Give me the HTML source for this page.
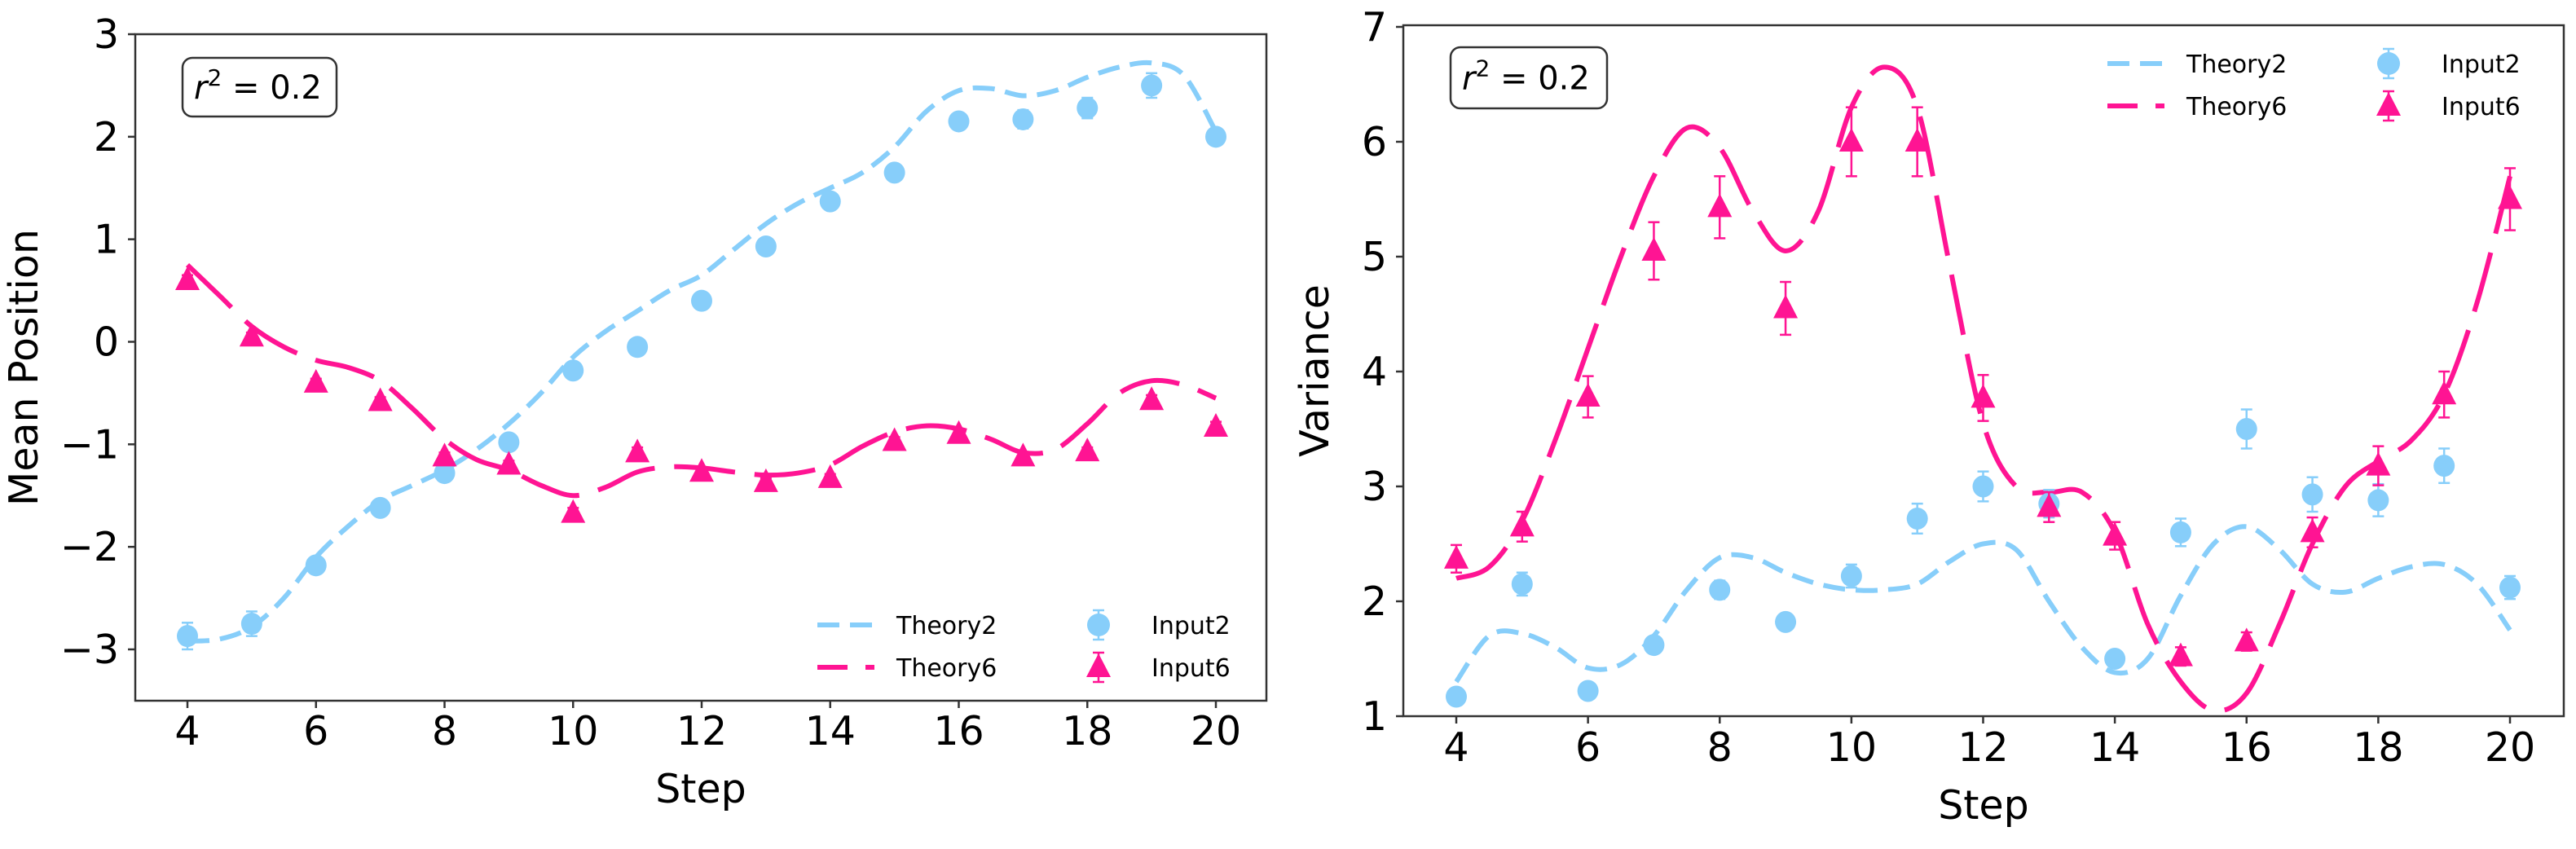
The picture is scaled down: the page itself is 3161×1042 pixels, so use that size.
<!DOCTYPE html>
<html><head><meta charset="utf-8"><style>
html,body{margin:0;padding:0;background:#fff;}
svg text{font-family:"DejaVu Sans","Liberation Sans",sans-serif;}
</style></head><body>
<svg id="fig" width="3161" height="1037" viewBox="0 0 3161 1037" xmlns="http://www.w3.org/2000/svg">
<defs>
<clipPath id="clipL"><rect x="166" y="42" width="1388" height="818"/></clipPath>
<clipPath id="clipR"><rect x="1722" y="31" width="1424" height="848"/></clipPath>
</defs>
<g id="left"></g>
<g id="right"></g>
</svg>
<script>
const steps = [4,5,6,7,8,9,10,11,12,13,14,15,16,17,18,19,20];
const meanInput2 = [-2.87,-2.75,-2.18,-1.62,-1.28,-0.98,-0.28,-0.05,0.40,0.93,1.37,1.65,2.15,2.17,2.28,2.50,2.00];
const meanInput2Err = [0.13,0.12,0.08,0.05,0.06,0.06,0.05,0.05,0.05,0.05,0.05,0.05,0.08,0.09,0.1,0.12,0.06];
const meanInput6 = [0.60,0.05,-0.40,-0.58,-1.12,-1.20,-1.67,-1.08,-1.27,-1.37,-1.33,-0.97,-0.90,-1.12,-1.07,-0.57,-0.83];
const meanInput6Err = [0.05,0.04,0.04,0.04,0.04,0.04,0.05,0.05,0.04,0.04,0.04,0.04,0.04,0.04,0.04,0.05,0.05];
const theoryX = [4,4.5,5,5.5,6,6.5,7,7.5,8,8.5,9,9.5,10,10.5,11,11.5,12,12.5,13,13.5,14,14.5,15,15.5,16,16.5,17,17.5,18,18.5,19,19.5,20];
const meanTheory2 = [-2.92,-2.9,-2.78,-2.5,-2.1,-1.8,-1.55,-1.4,-1.25,-1.05,-0.8,-0.5,-0.15,0.1,0.3,0.5,0.65,0.9,1.15,1.35,1.5,1.65,1.9,2.25,2.45,2.47,2.4,2.45,2.58,2.68,2.72,2.6,2.05];
const meanTheory6 = [0.75,0.45,0.15,-0.05,-0.18,-0.25,-0.38,-0.65,-0.95,-1.15,-1.25,-1.4,-1.5,-1.42,-1.27,-1.22,-1.23,-1.27,-1.3,-1.28,-1.2,-1.02,-0.88,-0.82,-0.85,-0.95,-1.08,-1.05,-0.8,-0.5,-0.38,-0.42,-0.55];
const varInput2 = [1.17,2.15,1.22,1.62,2.10,1.82,2.22,2.72,3.00,2.85,1.50,2.60,3.50,2.93,2.88,3.18,2.12];
const varInput2Err = [0.05,0.1,0.05,0.06,0.08,0.07,0.1,0.13,0.13,0.12,0.06,0.12,0.17,0.15,0.14,0.15,0.1];
const varInput6 = [2.37,2.65,3.78,5.05,5.43,4.55,6.00,6.00,3.77,2.82,2.57,1.52,1.65,2.60,3.18,3.80,5.50];
const varInput6Err = [0.12,0.13,0.18,0.25,0.27,0.23,0.3,0.3,0.2,0.13,0.12,0.08,0.08,0.13,0.17,0.2,0.27];
const varTheory2 = [1.3,1.7,1.72,1.6,1.42,1.45,1.7,2.1,2.38,2.38,2.25,2.15,2.1,2.1,2.15,2.35,2.5,2.45,2.0,1.6,1.38,1.5,2.05,2.5,2.65,2.45,2.15,2.08,2.2,2.3,2.32,2.15,1.75];
const varTheory6 = [2.2,2.3,2.7,3.4,4.2,5.0,5.7,6.12,5.95,5.4,5.05,5.4,6.3,6.65,6.3,4.9,3.55,3.0,2.95,2.95,2.6,1.8,1.3,1.05,1.2,1.8,2.5,3.0,3.22,3.4,3.8,4.6,5.7];
const xTicks = [4,6,8,10,12,14,16,18,20];
const meanYTicks = [-3,-2,-1,0,1,2,3];
const varYTicks = [1,2,3,4,5,6,7];

const NS='http://www.w3.org/2000/svg';
const BLUE='#87CEFA', PINK='#FF1493', AX='#333';
function mk(tag,attrs,parent){const e=document.createElementNS(NS,tag);for(const k in attrs)e.setAttribute(k,attrs[k]);parent.appendChild(e);return e;}
function smooth(pts){let d='M'+pts[0][0]+','+pts[0][1];for(let i=0;i<pts.length-1;i++){const p0=pts[i-1]||pts[i],p1=pts[i],p2=pts[i+1],p3=pts[i+2]||p2;
d+=' C'+(p1[0]+(p2[0]-p0[0])/6)+','+(p1[1]+(p2[1]-p0[1])/6)+' '+(p2[0]-(p3[0]-p1[0])/6)+','+(p2[1]-(p3[1]-p1[1])/6)+' '+p2[0]+','+p2[1];}return d;}

function chart(g,cfg){
  const sx=v=>cfg.x0+(v-4)*(cfg.x20-cfg.x0)/16;
  const sy=v=>cfg.yA+(v-cfg.vA)*(cfg.yB-cfg.yA)/(cfg.vB-cfg.vA);
  const L=cfg.L,R=cfg.R,T=cfg.T,B=cfg.B;
  const plot=mk('g',{'clip-path':'url(#'+cfg.clip+')'},g);
  
  
  const lines=[[cfg.th2,BLUE,'27 13','theory2-line',6],[cfg.th6,PINK,'75 24','theory6-line',6]];
  lines.forEach(([arr,c,da,nm,w])=>{
    const p=mk('path',{d:smooth(theoryX.map((x,i)=>[sx(x),sy(arr[i])])),fill:'none',stroke:c,'stroke-width':w,'stroke-dasharray':da},plot);
    
    
  });
  steps.forEach((s,i)=>{
    const x=sx(s);
    let y=sy(cfg.in2[i]),e=cfg.in2e[i]*Math.abs(cfg.yB-cfg.yA)/Math.abs(cfg.vB-cfg.vA);
    const g2=mk('g',{},plot);
    
    
    mk('line',{x1:x,x2:x,y1:y-e,y2:y+e,stroke:BLUE,'stroke-width':2.5},g2);
    mk('line',{x1:x-7,x2:x+7,y1:y-e,y2:y-e,stroke:BLUE,'stroke-width':2.5},g2);
    mk('line',{x1:x-7,x2:x+7,y1:y+e,y2:y+e,stroke:BLUE,'stroke-width':2.5},g2);
    mk('ellipse',{cx:x,cy:y,rx:13,ry:13.5,fill:BLUE},g2);
    y=sy(cfg.in6[i]);e=cfg.in6e[i]*Math.abs(cfg.yB-cfg.yA)/Math.abs(cfg.vB-cfg.vA);
    const g6=mk('g',{},plot);
    
    
    mk('line',{x1:x,x2:x,y1:y-e,y2:y+e,stroke:PINK,'stroke-width':2.5},g6);
    mk('line',{x1:x-7,x2:x+7,y1:y-e,y2:y-e,stroke:PINK,'stroke-width':2.5},g6);
    mk('line',{x1:x-7,x2:x+7,y1:y+e,y2:y+e,stroke:PINK,'stroke-width':2.5},g6);
    mk('polygon',{points:(x)+','+(y-17)+' '+(x-15)+','+(y+12)+' '+(x+15)+','+(y+12),fill:PINK},g6);
  });
  const fr=mk('rect',{x:L,y:T,width:R-L,height:B-T,fill:'none',stroke:AX,'stroke-width':2.5},g);
  
  
  xTicks.forEach(t=>{
    const x=sx(t);
    mk('line',{x1:x,x2:x,y1:B,y2:B+9,stroke:AX,'stroke-width':2.5},g);
    const tx=mk('text',{x:x,y:cfg.xtY,'font-size':49,'text-anchor':'middle'},g);tx.textContent=t;
    
    
  });
  cfg.yt.forEach(t=>{
    const y=sy(t);
    mk('line',{x1:L-9,x2:L,y1:y,y2:y,stroke:AX,'stroke-width':2.5},g);
    const tx=mk('text',{x:L-20,y:y+17,'font-size':49,'text-anchor':'end'},g);tx.textContent=(t<0?'\u2212'+(-t):t);
    
    
  });
  const xl=mk('text',{x:(L+R)/2,y:cfg.xlY,'font-size':49,'text-anchor':'middle'},g);xl.textContent='Step';
  
  
  const yl=mk('text',{x:0,y:0,'font-size':49,'text-anchor':'middle',transform:'translate('+cfg.ylX+','+((T+B)/2)+') rotate(-90)'},g);yl.textContent=cfg.ylab;
  
  
  const bx=mk('g',{},g);
  
  
  mk('rect',{x:cfg.bx[0],y:cfg.bx[1],width:cfg.bx[2],height:cfg.bx[3],rx:12,fill:'#fff',stroke:AX,'stroke-width':2.5},bx);
  const rt=mk('text',{x:cfg.bx[0]+14,y:cfg.bx[1]+cfg.bx[3]/2+14,'font-size':40},bx);
  rt.innerHTML='<tspan font-style="italic">r</tspan><tspan dy="-16" font-size="28">2</tspan><tspan dy="16"> = 0.2</tspan>';
  const lg=mk('g',{},g);
  
  
  const lx=cfg.lg[0],ly=cfg.lg[1];
  const rows=[['Theory2',BLUE,'27 13','Input2','c'],['Theory6',PINK,'37 22','Input6','t']];
  rows.forEach((r,k)=>{
    const y=ly+k*52;
    const e=mk('g',{},lg);
    
    
    mk('line',{x1:lx,x2:lx+70,y1:y,y2:y,stroke:r[1],'stroke-width':6,'stroke-dasharray':r[2]},e);
    const t=mk('text',{x:lx+97,y:y+11,'font-size':30},e);t.textContent=r[0];
    const e2=mk('g',{},lg);
    
    
    const mx=lx+345;
    mk('line',{x1:mx,x2:mx,y1:y-18,y2:y+18,stroke:r[1],'stroke-width':2.5},e2);
    mk('line',{x1:mx-7,x2:mx+7,y1:y-18,y2:y-18,stroke:r[1],'stroke-width':2.5},e2);
    mk('line',{x1:mx-7,x2:mx+7,y1:y+18,y2:y+18,stroke:r[1],'stroke-width':2.5},e2);
    if(r[4]==='c')mk('circle',{cx:mx,cy:y,r:14,fill:r[1]},e2);
    else mk('polygon',{points:mx+','+(y-17)+' '+(mx-15)+','+(y+12)+' '+(mx+15)+','+(y+12),fill:r[1]},e2);
    const t2=mk('text',{x:lx+410,y:y+11,'font-size':30},e2);t2.textContent=r[3];
  });
}
chart(document.getElementById('left'),{L:166,R:1554,T:42,B:860,x0:230,x20:1492,yA:42,vA:3,yB:797,vB:-3,clip:'clipL',
  th2:meanTheory2,th6:meanTheory6,in2:meanInput2,in2e:meanInput2Err,in6:meanInput6,in6e:meanInput6Err,yt:meanYTicks,
  xtY:914,xlY:985,ylX:46,ylab:'Mean Position',bx:[224,71,189,72],lg:[1003,767]});
chart(document.getElementById('right'),{L:1722,R:3146,T:31,B:879,x0:1787,x20:3080,yA:879,vA:1,yB:738,vB:2,clip:'clipR',
  th2:varTheory2,th6:varTheory6,in2:varInput2,in2e:varInput2Err,in6:varInput6,in6e:varInput6Err,yt:varYTicks,
  xtY:934,xlY:1005,ylX:1630,ylab:'Variance',bx:[1780,58,192,75],lg:[2586,78]});
</script>
</body></html>
